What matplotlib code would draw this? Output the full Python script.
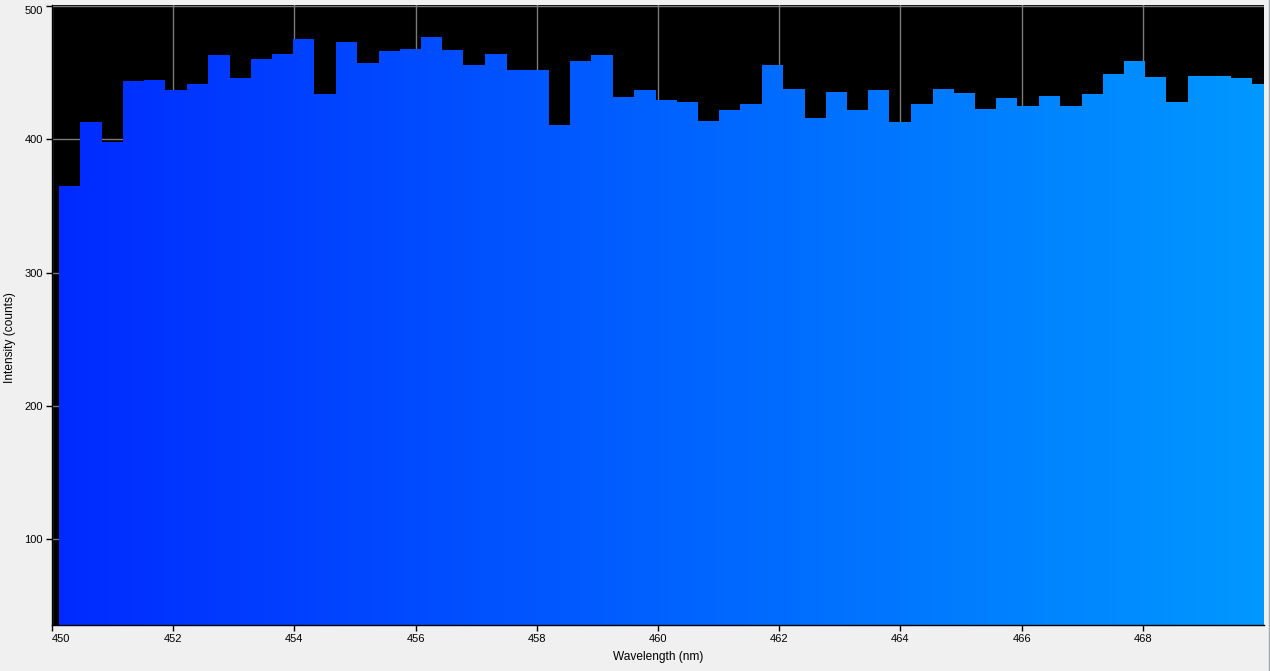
import numpy as np
import matplotlib
matplotlib.use("Agg")
import matplotlib.pyplot as plt
from matplotlib.colors import LinearSegmentedColormap
from matplotlib.lines import Line2D

# ---- data ----
bin_edges = [450.12, 450.47, 450.82, 451.17, 451.52, 451.87, 452.22, 452.58, 452.93, 453.28,
             453.63, 453.98, 454.33, 454.68, 455.04, 455.39, 455.74, 456.09, 456.44, 456.79,
             457.15, 457.50, 457.85, 458.20, 458.55, 458.90, 459.25, 459.61, 459.96, 460.31,
             460.66, 461.01, 461.36, 461.71, 462.07, 462.42, 462.77, 463.12, 463.47, 463.82,
             464.18, 464.53, 464.88, 465.23, 465.58, 465.93, 466.28, 466.64, 466.99, 467.34,
             467.69, 468.04, 468.39, 468.74, 469.10, 469.45, 469.80, 470.15]
intensity = [365, 413, 398, 443.6, 444.4, 436.9, 441.4, 463, 445.9, 460,
             463.8, 475, 433.8, 472.8, 457.1, 466.1, 467.5, 476.5, 466.8, 455.6,
             463.8, 451.8, 451.8, 410.7, 458.6, 463, 431.6, 436.9, 429.4, 427.9,
             413.7, 421.9, 426.4, 455.6, 437.6, 415.9, 435.4, 421.9, 436.9, 412.9,
             426.4, 437.6, 434.6, 422.7, 430.9, 424.9, 432.4, 424.9, 433.8, 448.9,
             458.6, 446.6, 427.9, 447.4, 447.4, 445.9, 441.4]
x_ticks = [450, 452, 454, 456, 458, 460, 462, 464, 466, 468]
y_ticks = [100, 200, 300, 400, 500]
x_label = "Wavelength (nm)"
y_label = "Intensity (counts)"

W, H = 1270, 671
fig = plt.figure(figsize=(W / 100, H / 100), dpi=100, facecolor="#F0F0F0")
ax = fig.add_axes([52 / W, 46 / H, 1212 / W, 620 / H])
ax.set_facecolor("black")

xmin, xmax = 450, 470
ymin, ymax = 35.7, 500.6
ax.set_xlim(xmin, xmax)
ax.set_ylim(ymin, ymax)

# step patch used as clip path for the gradient fill
step = ax.stairs(intensity, bin_edges, fill=True, baseline=ymin,
                 facecolor="none", edgecolor="none", zorder=1)

cmap = LinearSegmentedColormap.from_list("wl", [(0, 42 / 255, 1), (0, 152 / 255, 1)])
grad = np.linspace(0, 1, 512).reshape(1, -1)
img = ax.imshow(grad, cmap=cmap, extent=[xmin, xmax, ymin, ymax],
                aspect="auto", origin="lower", zorder=1, interpolation="bilinear")
img.set_clip_path(step)

ax.set_axisbelow(True)
ax.grid(True, color="#7a7a7a", linewidth=1.0)

for s in ["top", "right"]:
    ax.spines[s].set_visible(False)
for s in ["left", "bottom"]:
    ax.spines[s].set_color("black")
    ax.spines[s].set_linewidth(1.0)
    ax.spines[s].set_zorder(3)

font = "Liberation Sans"
ax.set_xticks(x_ticks, [str(t) for t in x_ticks])
ax.set_yticks(y_ticks, [str(t) for t in y_ticks])
ax.tick_params(direction="out", length=4.5, width=1, color="black",
               labelsize=8, pad=2)
for lab in ax.get_xticklabels() + ax.get_yticklabels():
    lab.set_fontfamily(font)
ax.get_xticklabels()[0].set_horizontalalignment("left")
ax.get_yticklabels()[-1].set_verticalalignment("top")

fig.text(658 / W, 1 - 657 / H, x_label, ha="center", va="center",
         fontsize=8.6, family=font)
fig.text(10.5 / W, 1 - 337.5 / H, y_label, ha="center", va="center",
         rotation=90, fontsize=8.6, family=font)

fig.add_artist(Line2D([1268.5 / W, 1268.5 / W], [0, 1], transform=fig.transFigure,
                      color="#9aaab8", linewidth=1.0))

fig.savefig("out.png", dpi=100, facecolor=fig.get_facecolor())
